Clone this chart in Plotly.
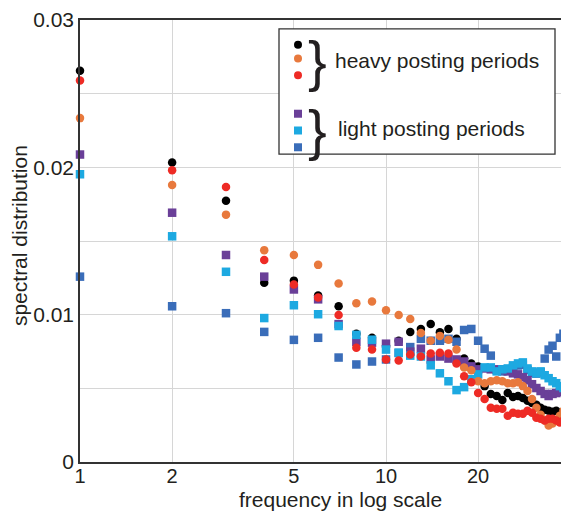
import plotly.graph_objects as go

# ---------------- data ----------------
freq = list(range(1, 40))

heavy_black = [0.02655, 0.02033, 0.01773, 0.01217, 0.01231, 0.01130, 0.01057, 0.00870, 0.00843, 0.00789,
               0.00823, 0.00883, 0.00903, 0.00936, 0.00880, 0.00903, 0.00836, 0.00702, 0.00669, 0.00649,
               0.00515, 0.00462, 0.00448, 0.00421, 0.00468, 0.00441, 0.00448, 0.00435, 0.00415, 0.00401,
               0.00388, 0.00368, 0.00355, 0.00348, 0.00341, 0.00348, 0.00328, 0.00314, 0.00294]

heavy_orange = [0.02334, 0.01880, 0.01679, 0.01438, 0.01405, 0.01338, 0.01211, 0.01077, 0.01090, 0.01030,
                0.00997, 0.00970, 0.00876, 0.00823, 0.00856, 0.00829, 0.00763, 0.00642, 0.00622, 0.00548,
                0.00535, 0.00548, 0.00555, 0.00548, 0.00535, 0.00535, 0.00542, 0.00515, 0.00482, 0.00428,
                0.00368, 0.00321, 0.00281, 0.00247, 0.00261, 0.00281, 0.00314, 0.00348, 0.00381]

heavy_red = [0.02590, 0.01980, 0.01866, 0.01371, 0.01204, 0.01117, 0.00997, 0.00776, 0.00763, 0.00696,
             0.00689, 0.00729, 0.00716, 0.00736, 0.00742, 0.00736, 0.00669, 0.00582, 0.00542, 0.00468,
             0.00428, 0.00368, 0.00361, 0.00361, 0.00314, 0.00334, 0.00328, 0.00328, 0.00348, 0.00334,
             0.00301, 0.00294, 0.00281, 0.00294, 0.00294, 0.00281, 0.00268, 0.00281, 0.00308]

light_purple = [0.02087, 0.01692, 0.01405, 0.01258, 0.01171, 0.01104, 0.00936, 0.00816, 0.00810, 0.00803,
                0.00816, 0.00749, 0.00769, 0.00696, 0.00716, 0.00702, 0.00696, 0.00682, 0.00649, 0.00629,
                0.00635, 0.00629, 0.00629, 0.00629, 0.00615, 0.00602, 0.00595, 0.00575, 0.00555, 0.00528,
                0.00502, 0.00482, 0.00462, 0.00448, 0.00462, 0.00468, 0.00475, 0.00488, 0.00495]

light_cyan = [0.01953, 0.01532, 0.01291, 0.00977, 0.01064, 0.01003, 0.00923, 0.00863, 0.00830, 0.00763,
              0.00742, 0.00722, 0.00716, 0.00656, 0.00602, 0.00548, 0.00488, 0.00508, 0.00562, 0.00595,
              0.00642, 0.00642, 0.00615, 0.00629, 0.00635, 0.00656, 0.00669, 0.00676, 0.00635, 0.00615,
              0.00602, 0.00615, 0.00589, 0.00569, 0.00548, 0.00535, 0.00515, 0.00502, 0.00482]

light_blue = [0.01258, 0.01057, 0.01010, 0.00883, 0.00829, 0.00843, 0.00709, 0.00662, 0.00682, 0.00696,
              0.00740, 0.00780, 0.00836, 0.00823, 0.00823, 0.00836, 0.00816, 0.00896, 0.00903, 0.00823,
              0.00769, 0.00722, 0.00625, 0.00615, 0.00620, 0.00640, 0.00655, 0.00660, 0.00625, 0.00605,
              0.00600, 0.00610, 0.00702, 0.00763, 0.00789, 0.00716, 0.00843, 0.00870, 0.00890]

x_tick_vals = [1, 2, 5, 10, 20]
x_tick_text = ["1", "2", "5", "10", "20"]
y_tick_vals = [0, 0.005, 0.01, 0.015, 0.02, 0.025, 0.03]
y_tick_text = ["0", "", "0.01", "", "0.02", "", "0.03"]

# ---------------- style ----------------
C_BLACK = "#000000"
C_ORANGE = "#E8793D"
C_RED = "#EE2B25"
C_PURPLE = "#6A3F98"
C_CYAN = "#1DA9E1"
C_BLUE = "#3A6DB9"
FONT = "Liberation Sans, Arial, Helvetica, sans-serif"
TXT = "#231f20"
FS = 21

fig = go.Figure()

series = [
    (heavy_black, C_BLACK, "circle"),
    (light_blue, C_BLUE, "square"),
    (light_purple, C_PURPLE, "square"),
    (light_cyan, C_CYAN, "square"),
    (heavy_orange, C_ORANGE, "circle"),
    (heavy_red, C_RED, "circle"),
]
for vals, col, sym in series:
    fig.add_trace(go.Scatter(
        x=freq, y=vals, mode="markers", cliponaxis=False, showlegend=False,
        marker=dict(color=col, symbol=sym, size=8.5, line=dict(width=0)),
    ))

# page has an 8px body margin: figure is placed at (8, 8)
W, H = 561, 508
PL, PR, PT, PB = 80, 569, 14, 462   # plot area in page pixels


def px(xp):
    return (xp - PL) / (PR - PL)


def py(yp):
    return (PB - yp) / (PB - PT)


shapes = []
shapes.append(dict(type="rect", xref="paper", yref="paper",
                   x0=px(279), x1=px(555), y0=py(150), y1=py(23),
                   line=dict(color="#333333", width=1.3), fillcolor="white", layer="above"))
legend_items = [
    (C_BLACK, "circle", 39), (C_ORANGE, "circle", 53), (C_RED, "circle", 70),
    (C_PURPLE, "rect", 109), (C_CYAN, "rect", 126), (C_BLUE, "rect", 143),
]
for col, typ, yy in legend_items:
    r = 4
    shapes.append(dict(type=typ, xref="paper", yref="paper",
                       xsizemode="pixel", ysizemode="pixel",
                       xanchor=px(298), yanchor=py(yy),
                       x0=-r, x1=r, y0=-r, y1=r,
                       fillcolor=col, line=dict(width=0), layer="above"))

annotations = [
    dict(text="}", xref="paper", yref="paper", x=px(317), y=py(55), showarrow=False,
         xanchor="center", yanchor="middle", font=dict(family=FONT, size=56, color=TXT)),
    dict(text="}", xref="paper", yref="paper", x=px(317), y=py(125), showarrow=False,
         xanchor="center", yanchor="middle", font=dict(family=FONT, size=56, color=TXT)),
    dict(text="heavy posting periods", xref="paper", yref="paper", x=px(333), y=py(55),
         showarrow=False, xanchor="left", yanchor="middle", font=dict(family=FONT, size=FS, color=TXT)),
    dict(text="light posting periods", xref="paper", yref="paper", x=px(336), y=py(124),
         showarrow=False, xanchor="left", yanchor="middle", font=dict(family=FONT, size=FS, color=TXT)),
    dict(text="spectral distribution", xref="paper", yref="paper", x=px(19), y=py(233),
         showarrow=False, xanchor="center", yanchor="middle", textangle=-90,
         font=dict(family=FONT, size=FS, color=TXT)),
    dict(text="frequency in log scale", xref="paper", yref="paper", x=px(340), y=py(500),
         showarrow=False, xanchor="center", yanchor="middle",
         font=dict(family=FONT, size=FS, color=TXT)),
]

fig.update_layout(
    width=W, height=H, autosize=False,
    margin=dict(l=PL - 8, r=0, t=PT - 8, b=H - (PB - 8)),
    paper_bgcolor="white", plot_bgcolor="white",
    font=dict(family=FONT, size=FS, color=TXT),
    shapes=shapes, annotations=annotations,
    xaxis=dict(type="log", range=[0, 1.598], tickvals=x_tick_vals, ticktext=x_tick_text,
               showgrid=True, gridcolor="#d6d6d6", gridwidth=1,
               showline=True, linecolor="#333333", linewidth=1.5, mirror=True,
               ticks="", zeroline=False, ticklabelstandoff=-5, ticklabeloverflow="allow",
               tickfont=dict(size=20, color=TXT)),
    yaxis=dict(range=[0, 0.03], tickvals=y_tick_vals, ticktext=y_tick_text,
               showgrid=True, gridcolor="#d6d6d6", gridwidth=1,
               showline=True, linecolor="#333333", linewidth=1.5,
               ticks="", zeroline=False, ticklabeloverflow="allow",
               tickfont=dict(size=FS, color=TXT)),
)

fig.write_html("out.html")
